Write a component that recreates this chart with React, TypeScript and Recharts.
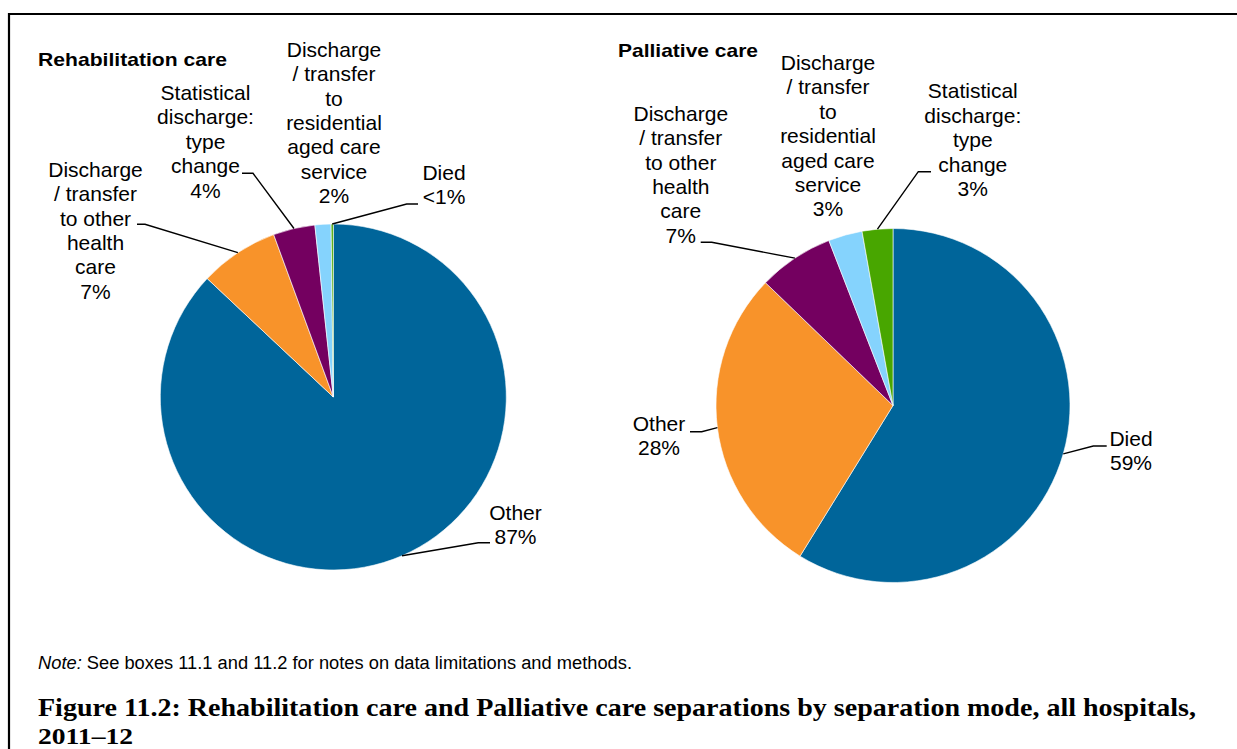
import React from 'react';
import { PieChart, Pie, Cell } from 'recharts';

// ---------- data ----------
const rehabCategories = [
  'Other',
  'Discharge / transfer to other health care',
  'Statistical discharge: type change',
  'Discharge / transfer to residential aged care service',
  'Died',
];
const rehabValues = [87.0, 7.4, 3.9, 1.5, 0.2];
const rehabPctLabels = ['87%', '7%', '4%', '2%', '<1%'];

const palliCategories = [
  'Died',
  'Other',
  'Discharge / transfer to other health care',
  'Discharge / transfer to residential aged care service',
  'Statistical discharge: type change',
];
const palliValues = [58.8, 28.4, 6.9, 3.1, 2.8];
const palliPctLabels = ['59%', '28%', '7%', '3%', '3%'];

// how each category name wraps in the label box
const wrappedNames: Record<string, string[]> = {
  Other: ['Other'],
  Died: ['Died'],
  'Discharge / transfer to other health care': ['Discharge', '/ transfer', 'to other', 'health', 'care'],
  'Statistical discharge: type change': ['Statistical', 'discharge:', 'type', 'change'],
  'Discharge / transfer to residential aged care service': ['Discharge', '/ transfer', 'to', 'residential', 'aged care', 'service'],
};

const chartTitles = ['Rehabilitation care', 'Palliative care'];
const noteLabel = 'Note:';
const noteText = ' See boxes 11.1 and 11.2 for notes on data limitations and methods.';
const captionLines = [
  'Figure 11.2: Rehabilitation care and Palliative care separations by separation mode, all hospitals,',
  '2011\u201312',
];

// ---------- styles / layout ----------
const sliceColors = ['#00659A', '#F8932A', '#740060', '#85D3FD', '#48A600'];
const SANS = '"Liberation Sans", Arial, Helvetica, sans-serif';
const SERIF = '"Liberation Serif", "Times New Roman", serif';
const LABEL_SIZE = 21;
const LINE_GAP = 24.4;

type LabelLayout = { x: number; y: number; elbow?: [number, number]; end?: [number, number] };

const rehabLabelLayout: LabelLayout[] = [
  { x: 515.5, y: 520, elbow: [478.3, 542.7], end: [490, 542.7] },
  { x: 95.5, y: 176.7, elbow: [145, 224.3], end: [137, 224.3] },
  { x: 205.5, y: 100, elbow: [253, 173.3], end: [242, 173.3] },
  { x: 334, y: 56.7 },
  { x: 444, y: 180, elbow: [406.7, 204], end: [418, 204] },
];

const palliLabelLayout: LabelLayout[] = [
  { x: 1131, y: 445.7, elbow: [1093.3, 446], end: [1106.7, 446] },
  { x: 659, y: 430.7, elbow: [701.7, 431.7], end: [690, 431.7] },
  { x: 680.8, y: 120.7, elbow: [711.7, 242.3], end: [700.7, 242.3] },
  { x: 828, y: 70 },
  { x: 972.8, y: 98.3, elbow: [918.3, 171.7], end: [931, 171.7] },
];

const rehabData = rehabCategories.map((name, i) => ({ name, value: rehabValues[i] }));
const palliData = palliCategories.map((name, i) => ({ name, value: palliValues[i] }));

const RAD = Math.PI / 180;

const makeLabel =
  (layout: LabelLayout[], categories: string[], pcts: string[]) =>
  (props: any) => {
    const { cx, cy, midAngle, outerRadius, index } = props;
    const L = layout[index];
    if (!L) return null;
    const ax = cx + outerRadius * Math.cos(-midAngle * RAD);
    const ay = cy + outerRadius * Math.sin(-midAngle * RAD);
    const name = categories[index];
    const lines = [...(wrappedNames[name] ?? [name]), pcts[index]];
    return (
      <g key={`lbl-${index}`}>
        {L.elbow && L.end ? (
          <polyline
            points={`${ax},${ay} ${L.elbow[0]},${L.elbow[1]} ${L.end[0]},${L.end[1]}`}
            fill="none"
            stroke="#000"
            strokeWidth={1.4}
          />
        ) : null}
        <text x={L.x} y={L.y} textAnchor="middle" fontFamily={SANS} fontSize={LABEL_SIZE} fill="#000">
          {lines.map((ln, i) => (
            <tspan key={i} x={L.x} y={L.y + i * LINE_GAP}>
              {ln}
            </tspan>
          ))}
        </text>
      </g>
    );
  };

export default function App() {
  return (
    <div
      style={{
        position: 'absolute',
        left: 0,
        top: 0,
        width: 1237,
        height: 749,
        overflow: 'hidden',
        background: '#fff',
      }}
    >
      <svg width={1237} height={749} style={{ position: 'absolute', left: 0, top: 0 }}>
        <line x1={9} y1={14} x2={1237} y2={14} stroke="#000" strokeWidth={2.2} />
        <line x1={9} y1={13} x2={9} y2={749} stroke="#000" strokeWidth={2.2} />
        <text x={38} y={66} fontFamily={SANS} fontWeight="bold" fontSize={19} textLength={189} lengthAdjust="spacingAndGlyphs" fill="#000">
          {chartTitles[0]}
        </text>
        <text x={618} y={57.3} fontFamily={SANS} fontWeight="bold" fontSize={19} textLength={140} lengthAdjust="spacingAndGlyphs" fill="#000">
          {chartTitles[1]}
        </text>
        <text x={38} y={669} fontFamily={SANS} fontSize={18} textLength={594} lengthAdjust="spacingAndGlyphs" fill="#000">
          <tspan fontStyle="italic">{noteLabel}</tspan>
          <tspan>{noteText}</tspan>
        </text>
        <text x={38} y={716} fontFamily={SERIF} fontWeight="bold" fontSize={25} textLength={1158} lengthAdjust="spacingAndGlyphs" fill="#000">
          {captionLines[0]}
        </text>
        <text x={38} y={744} fontFamily={SERIF} fontWeight="bold" fontSize={24} textLength={95} lengthAdjust="spacingAndGlyphs" fill="#000">
          {captionLines[1]}
        </text>
      </svg>
      <div style={{ position: 'absolute', left: 0, top: 0 }}>
        <PieChart width={1237} height={749} margin={{ top: 0, right: 0, bottom: 0, left: 0 }}>
          <Pie
            data={rehabData}
            dataKey="value"
            nameKey="name"
            cx={333.3}
            cy={397}
            outerRadius={173}
            startAngle={90}
            endAngle={-270}
            stroke="#ffffff"
            strokeWidth={0.6}
            isAnimationActive={false}
            labelLine={false}
            label={makeLabel(rehabLabelLayout, rehabCategories, rehabPctLabels)}
          >
            {rehabData.map((d, i) => (
              <Cell key={d.name} fill={sliceColors[i]} />
            ))}
          </Pie>
          <Pie
            data={palliData}
            dataKey="value"
            nameKey="name"
            cx={893}
            cy={405.5}
            outerRadius={177}
            startAngle={90}
            endAngle={-270}
            stroke="#ffffff"
            strokeWidth={0.6}
            isAnimationActive={false}
            labelLine={false}
            label={makeLabel(palliLabelLayout, palliCategories, palliPctLabels)}
          >
            {palliData.map((d, i) => (
              <Cell key={d.name} fill={sliceColors[i]} />
            ))}
          </Pie>
        </PieChart>
      </div>
    </div>
  );
}
